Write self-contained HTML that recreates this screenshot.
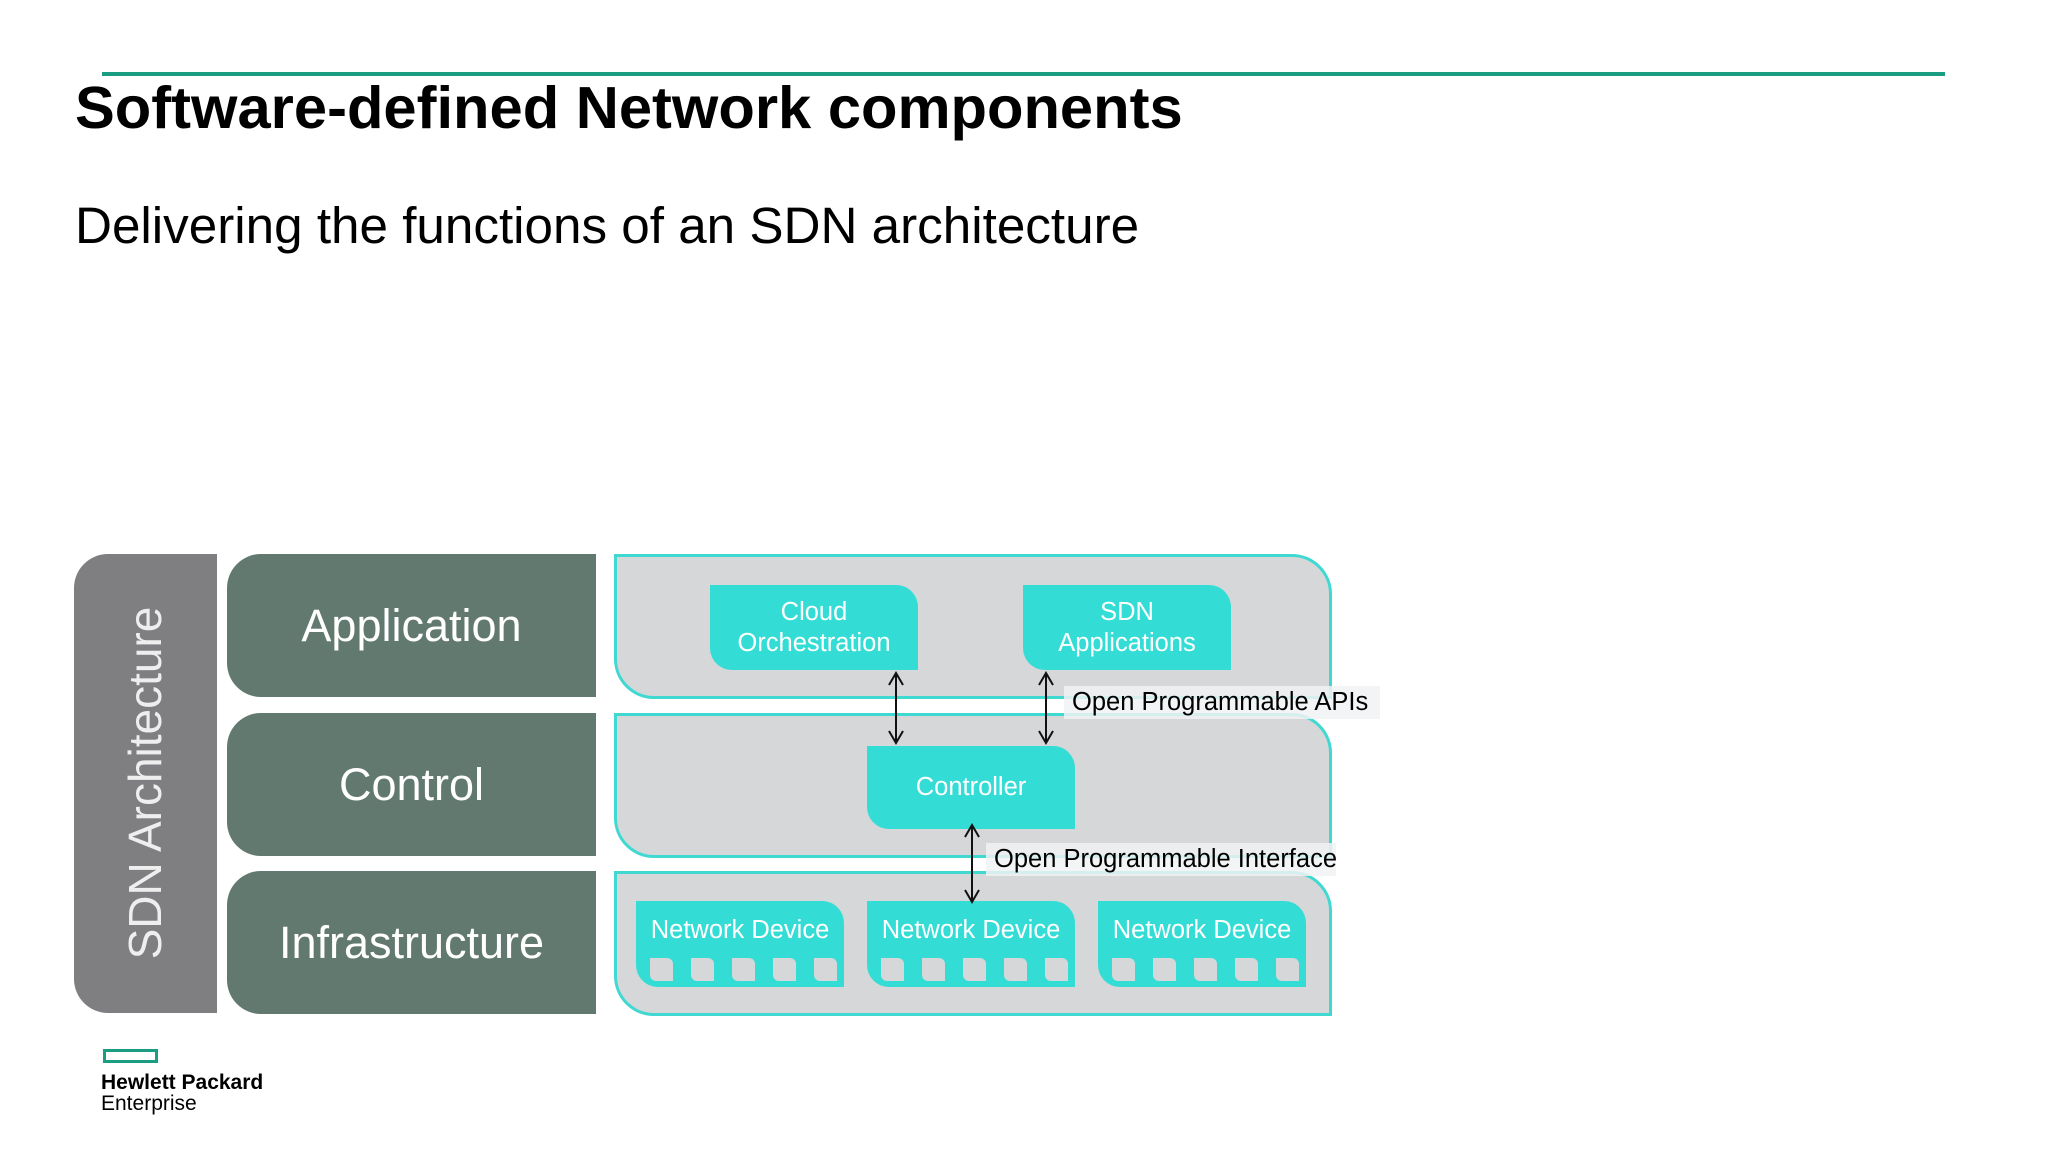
<!DOCTYPE html>
<html><head><meta charset="utf-8"><style>
body{margin:0;width:2048px;height:1152px;background:#fff;position:relative;overflow:hidden;font-family:"Liberation Sans",sans-serif}
div{position:absolute;box-sizing:border-box}
.lay{background:#627970;color:#fff;font-size:45px;display:flex;align-items:center;justify-content:center;left:227px;width:369px;height:143px;border-radius:34px 0 0 34px}
.pan{left:614px;width:718px;background:#d5d7d9;border:3px solid #3fd9d2;border-radius:0 40px 0 40px}
.cy{background:#33ddd5;color:#fff;font-size:25.5px;text-align:center;border-radius:0 22px 0 22px;line-height:31px;white-space:nowrap}
.nd{top:901px;width:208px;height:86px;padding-top:14px}
.port{width:23px;height:23px;background:#d5d7d9;top:958px;border-radius:0 6px 0 6px}
.lbl{font-size:25.5px;color:#000;background:rgba(240,242,243,0.85);padding:2px 0 2px 8px;white-space:nowrap}
</style></head><body>
<div style="left:102px;top:72px;width:1843px;height:4px;background:#1a9d80"></div>
<div style="left:75px;top:73px;font-size:59.7px;font-weight:bold;white-space:nowrap">Software-defined Network components</div>
<div style="left:75px;top:196px;font-size:51.2px;white-space:nowrap">Delivering the functions of an SDN architecture</div>

<div style="left:74px;top:554px;width:143px;height:459px;background:#7f7f82;border-radius:34px 0 0 34px"></div>
<div style="left:145px;top:783px;width:0;height:0"><div style="left:-230px;top:-28px;width:460px;height:56px;transform:rotate(-90deg);color:#eee;font-size:46px;text-align:center;line-height:56px;white-space:nowrap">SDN Architecture</div></div>

<div class="lay" style="top:554px">Application</div>
<div class="lay" style="top:713px">Control</div>
<div class="lay" style="top:871px">Infrastructure</div>

<div class="pan" style="top:554px;height:145px"></div>
<div class="pan" style="top:713px;height:145px"></div>
<div class="pan" style="top:871px;height:145px"></div>

<div class="lbl" style="left:1064px;top:686px;width:316px">Open Programmable APIs</div>
<div class="lbl" style="left:986px;top:843px;width:350px">Open Programmable Interface</div>

<div class="cy" style="left:710px;top:585px;width:208px;height:85px;padding-top:12px">Cloud<br>Orchestration</div>
<div class="cy" style="left:1023px;top:585px;width:208px;height:85px;padding-top:12px">SDN<br>Applications</div>
<div class="cy" style="left:867px;top:746px;width:208px;height:83px;line-height:83px">Controller</div>

<div class="cy nd" style="left:636px">Network Device</div>
<div class="cy nd" style="left:867px">Network Device</div>
<div class="cy nd" style="left:1098px">Network Device</div>
<div class="port" style="left:650px"></div><div class="port" style="left:691px"></div><div class="port" style="left:732px"></div><div class="port" style="left:773px"></div><div class="port" style="left:814px"></div>
<div class="port" style="left:881px"></div><div class="port" style="left:922px"></div><div class="port" style="left:963px"></div><div class="port" style="left:1004px"></div><div class="port" style="left:1045px"></div>
<div class="port" style="left:1112px"></div><div class="port" style="left:1153px"></div><div class="port" style="left:1194px"></div><div class="port" style="left:1235px"></div><div class="port" style="left:1276px"></div>

<svg style="position:absolute;left:0;top:0" width="2048" height="1152">
<g stroke="#111" stroke-width="2" fill="none">
<line x1="896" y1="674" x2="896" y2="742"/><polyline points="889,685 896,673 903,685"/><polyline points="889,731 896,743 903,731"/>
<line x1="1046" y1="674" x2="1046" y2="742"/><polyline points="1039,685 1046,673 1053,685"/><polyline points="1039,731 1046,743 1053,731"/>
<line x1="972" y1="826" x2="972" y2="901"/><polyline points="965,837 972,825 979,837"/><polyline points="965,890 972,902 979,890"/>
</g></svg>

<div style="left:103px;top:1049px;width:55px;height:14px;border:3px solid #1a9d80"></div>
<div style="left:101px;top:1072px;font-size:21px;font-weight:bold;line-height:22px;white-space:nowrap">Hewlett Packard</div>
<div style="left:101px;top:1093px;font-size:21px;line-height:22px">Enterprise</div>
</body></html>
